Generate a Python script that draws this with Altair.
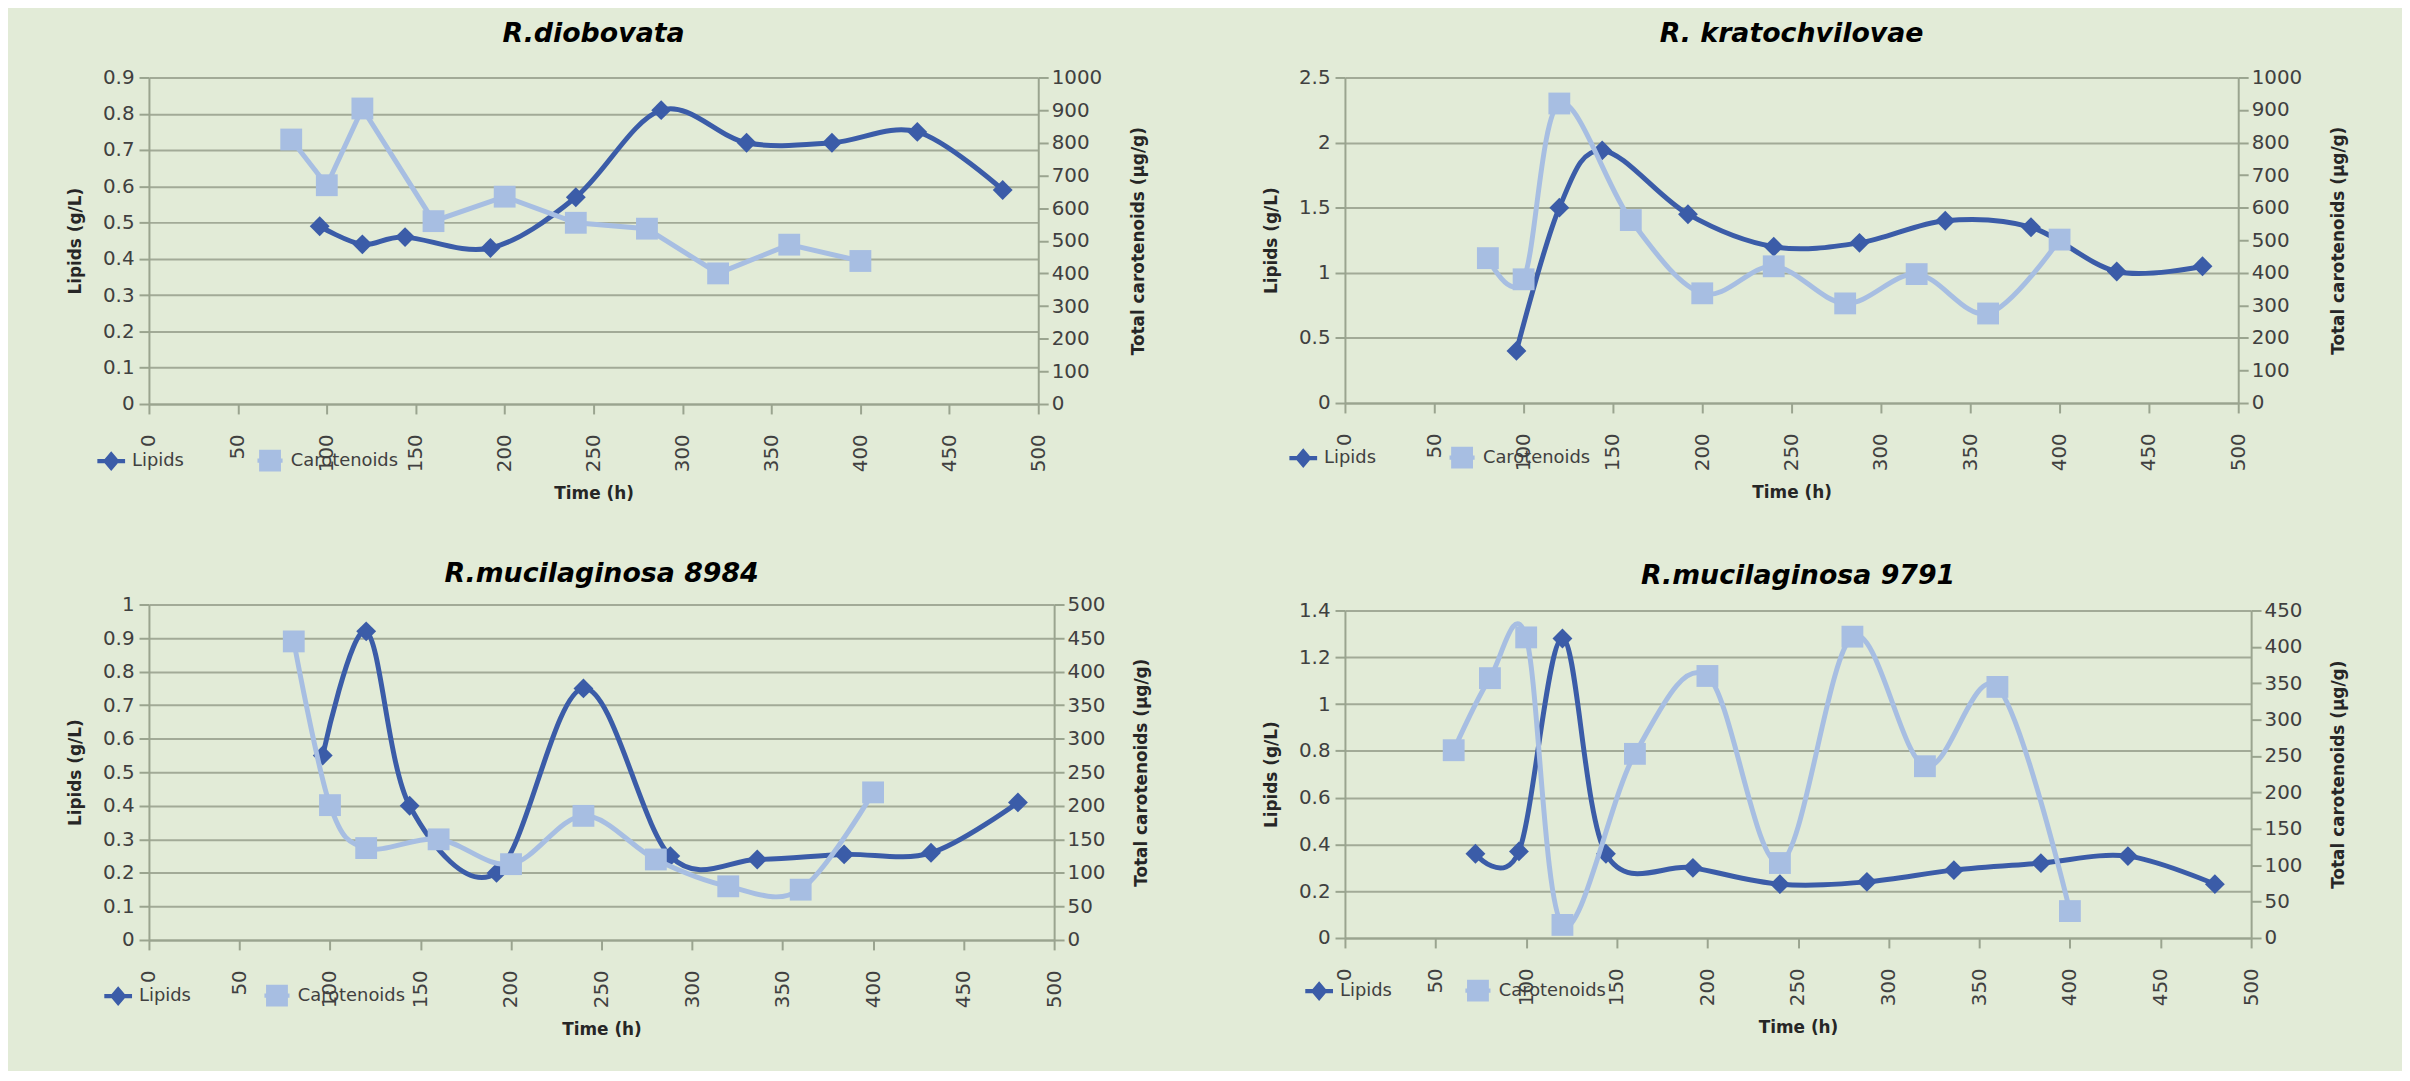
import altair as alt
import pandas as pd

# ---------------- data ----------------
SERIES = ["Lipids", "Carotenoids"]
X_TICKS = [0, 50, 100, 150, 200, 250, 300, 350, 400, 450, 500]

# R.diobovata
p1_lip_time = [96, 120, 144, 192, 240, 288, 336, 384, 432, 480]
p1_lip_val = [0.49, 0.44, 0.46, 0.43, 0.57, 0.81, 0.72, 0.72, 0.75, 0.59]
p1_car_time = [80, 100, 120, 160, 200, 240, 280, 320, 360, 400]
p1_car_val = [810, 670, 905, 560, 635, 555, 537, 400, 488, 438]
p1_left_ticks = [0, 0.1, 0.2, 0.3, 0.4, 0.5, 0.6, 0.7, 0.8, 0.9]
p1_right_ticks = [0, 100, 200, 300, 400, 500, 600, 700, 800, 900, 1000]

# R. kratochvilovae
p2_lip_time = [96, 120, 144, 192, 240, 288, 336, 384, 432, 480]
p2_lip_val = [0.40, 1.50, 1.94, 1.45, 1.20, 1.23, 1.40, 1.35, 1.01, 1.05]
p2_car_time = [80, 100, 120, 160, 200, 240, 280, 320, 360, 400]
p2_car_val = [445, 380, 920, 562, 337, 420, 306, 396, 275, 502]
p2_left_ticks = [0, 0.5, 1, 1.5, 2, 2.5]
p2_right_ticks = [0, 100, 200, 300, 400, 500, 600, 700, 800, 900, 1000]

# R.mucilaginosa 8984
p3_lip_time = [96, 120, 144, 192, 240, 288, 336, 384, 432, 480]
p3_lip_val = [0.55, 0.92, 0.40, 0.20, 0.75, 0.25, 0.24, 0.255, 0.26, 0.41]
p3_car_time = [80, 100, 120, 160, 200, 240, 280, 320, 360, 400]
p3_car_val = [445, 201, 137, 150, 113, 185, 120, 80, 75, 220]
p3_left_ticks = [0, 0.1, 0.2, 0.3, 0.4, 0.5, 0.6, 0.7, 0.8, 0.9, 1]
p3_right_ticks = [0, 50, 100, 150, 200, 250, 300, 350, 400, 450, 500]

# R.mucilaginosa 9791
p4_lip_time = [72, 96, 120, 144, 192, 240, 288, 336, 384, 432, 480]
p4_lip_val = [0.36, 0.37, 1.28, 0.36, 0.30, 0.23, 0.24, 0.29, 0.32, 0.35, 0.23]
p4_car_time = [60, 80, 100, 120, 160, 200, 240, 280, 320, 360, 400]
p4_car_val = [258, 357, 413, 18, 253, 360, 103, 414, 236, 345, 37]
p4_left_ticks = [0, 0.2, 0.4, 0.6, 0.8, 1, 1.2, 1.4]
p4_right_ticks = [0, 50, 100, 150, 200, 250, 300, 350, 400, 450]

# ---------------- styling ----------------
DARK = "#3B5CA8"
LIGHT = "#A7BEE2"
BG = "#E2EBD7"
AXIS_COL = "#9AA48F"
GRID_COL = "#A2AA97"
LABEL_COL = "#404040"
FONT = "DejaVu Sans"

# legend symbols: marker with a short line through it (as in the Excel legend)
LEG_LIP = ("M-1.27,-0.2L-0.6,-0.2L0,-0.9L0.6,-0.2L1.27,-0.2L1.27,0.2L0.6,0.2"
           "L0,0.9L-0.6,0.2L-1.27,0.2Z")
LEG_CAR = ("M-1.15,-0.2L-1,-0.2L-1,-1L1,-1L1,-0.2L1.15,-0.2L1.15,0.2L1,0.2"
           "L1,1L-1,1L-1,0.2L-1.15,0.2Z")


def panel(name, lt, lv, ct, cv, lticks, rticks, w, h, t_off,
          lip_interp, car_interp, leg_x, leg_y):
    df_l = pd.DataFrame({"Time": lt, "Lip": lv, "Series": ["Lipids"] * len(lt)})
    df_c = pd.DataFrame({"Time": ct, "Car": cv, "Series": ["Carotenoids"] * len(ct)})

    xenc = alt.X(
        "Time:Q",
        scale=alt.Scale(domain=[0, 500], nice=False, zero=False),
        axis=alt.Axis(values=X_TICKS, format="d", labelAngle=270, grid=False,
                      title="Time (h)", tickSize=10, labelPadding=20,
                      titlePadding=14),
    )
    leg = alt.Legend(orient="none", legendX=leg_x, legendY=leg_y,
                     direction="horizontal", title=None, labelFont=FONT,
                     labelFontSize=18, labelColor=LABEL_COL, symbolSize=484,
                     labelOffset=10, columnPadding=73, symbolStrokeWidth=0,
                     padding=0)
    color = alt.Color("Series:N",
                      scale=alt.Scale(domain=SERIES, range=[DARK, LIGHT]),
                      legend=leg)
    shape = alt.Shape("Series:N",
                      scale=alt.Scale(domain=SERIES, range=[LEG_LIP, LEG_CAR]),
                      legend=leg)

    ylip = alt.Y("Lip:Q",
                 scale=alt.Scale(domain=[0, lticks[-1]], nice=False, zero=True),
                 axis=alt.Axis(values=lticks, orient="left", format="~g",
                               title="Lipids (g/L)", grid=True, tickSize=10,
                               labelPadding=5, titlePadding=18))
    ycar = alt.Y("Car:Q",
                 scale=alt.Scale(domain=[0, rticks[-1]], nice=False, zero=True),
                 axis=alt.Axis(values=rticks, orient="right", format="d",
                               title="Total carotenoids (µg/g)", grid=False,
                               tickSize=10, labelPadding=3, titlePadding=46,
                               titleAngle=270))

    lip_line = alt.Chart(df_l).mark_line(interpolate=lip_interp, strokeWidth=5).encode(
        x=xenc, y=ylip, color=color)
    lip_pts = alt.Chart(df_l).mark_point(filled=True, size=400, opacity=1,
                                         shape="diamond").encode(
        x=xenc, y=ylip, color=color)
    car_line = alt.Chart(df_c).mark_line(interpolate=car_interp, strokeWidth=5).encode(
        x=xenc, y=ycar, color=color)
    car_pts = alt.Chart(df_c).mark_point(filled=True, size=484, opacity=1,
                                         shape="square").encode(
        x=xenc, y=ycar, color=color)
    # legend-only layer (filtered to no rows): carries the legend symbols
    leg_layer = alt.Chart(df_l).transform_filter("false").mark_point(
        filled=True, opacity=1).encode(color=color, shape=shape)

    lipids = alt.layer(lip_line, lip_pts, leg_layer)
    carot = alt.layer(car_line, car_pts)
    return alt.layer(lipids, carot).resolve_scale(y="independent").properties(
        width=w, height=h,
        title=alt.TitleParams(name, offset=t_off, anchor="middle", frame="group",
                              font=FONT, fontSize=27, fontStyle="italic",
                              fontWeight="bold", color="#000000"))


c1 = panel("R.diobovata", p1_lip_time, p1_lip_val, p1_car_time, p1_car_val,
           p1_left_ticks, p1_right_ticks, 896, 329, 20, "cardinal", "linear",
           -49, 375)
c2 = panel("R. kratochvilovae", p2_lip_time, p2_lip_val, p2_car_time, p2_car_val,
           p2_left_ticks, p2_right_ticks, 900, 328, 20, "cardinal", "cardinal",
           -53, 372)
c3 = panel("R.mucilaginosa 8984", p3_lip_time, p3_lip_val, p3_car_time, p3_car_val,
           p3_left_ticks, p3_right_ticks, 912, 338, 7, "cardinal", "cardinal",
           -42, 383)
c4 = panel("R.mucilaginosa 9791", p4_lip_time, p4_lip_val, p4_car_time, p4_car_val,
           p4_left_ticks, p4_right_ticks, 913, 330, 11, "cardinal", "cardinal",
           -37, 372)

col1 = alt.vconcat(c1, c3, spacing=58).resolve_scale(color="independent", shape="independent")
col2 = alt.vconcat(c2, c4, spacing=61).resolve_scale(color="independent", shape="independent")

chart = alt.hconcat(col1, col2, spacing=113).resolve_scale(
    color="independent", shape="independent"
).properties(
    padding={"left": 59, "top": 8, "right": 55, "bottom": 29},
    background=BG,
).configure_view(stroke=None).configure_axis(
    labelFont=FONT, labelFontSize=20, labelColor=LABEL_COL,
    titleFont=FONT, titleFontSize=17, titleFontWeight="bold", titleColor="#262626",
    domainColor=AXIS_COL, domainWidth=2, tickColor=AXIS_COL, tickWidth=2,
    gridColor=GRID_COL, gridWidth=2,
)

chart.save("out.html", embed_options={"renderer": "svg", "actions": False})
